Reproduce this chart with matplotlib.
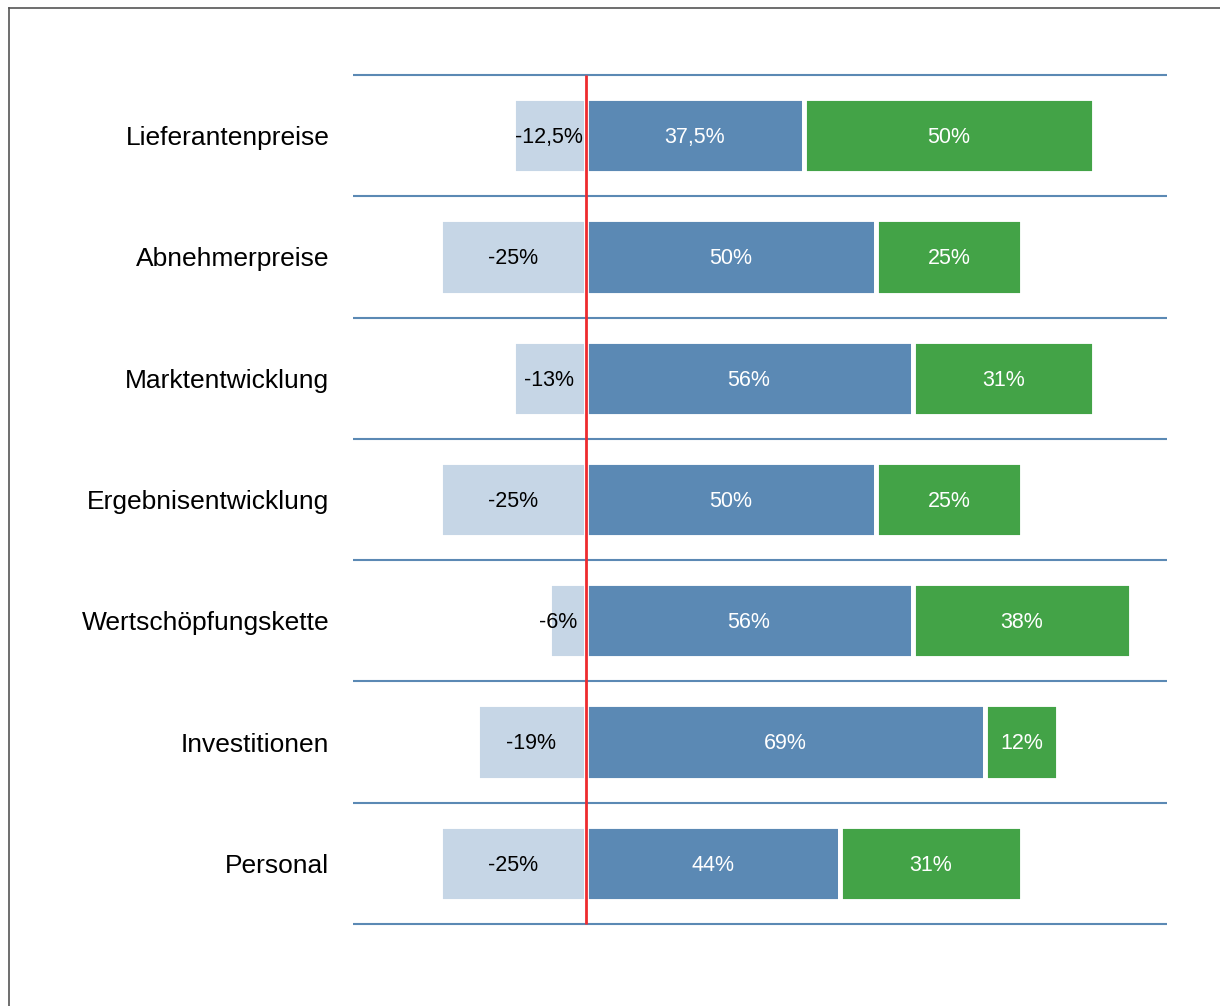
import matplotlib
matplotlib.use("Agg")
import matplotlib.pyplot as plt
from matplotlib.lines import Line2D

categories = ["Lieferantenpreise", "Abnehmerpreise", "Marktentwicklung",
              "Ergebnisentwicklung", "Wertschöpfungskette", "Investitionen", "Personal"]
negative = [12.5, 25, 12.5, 25, 6.25, 18.75, 25]
neutral = [37.5, 50, 56.25, 50, 56.25, 68.75, 43.75]
positive = [50, 25, 31.25, 25, 37.5, 12.5, 31.25]
neg_labels = ["-12,5%", "-25%", "-13%", "-25%", "-6%", "-19%", "-25%"]
neu_labels = ["37,5%", "50%", "56%", "50%", "56%", "69%", "44%"]
pos_labels = ["50%", "25%", "31%", "25%", "38%", "12%", "31%"]

c_neg = "#c6d6e6"
c_neu = "#5b89b4"
c_pos = "#43a347"
c_line = "#5b89b4"
c_red = "#ee2b2f"

plt.rcParams['font.family'] = ['Liberation Sans', 'DejaVu Sans']

fig = plt.figure(figsize=(12.2, 10.06), dpi=100)
ax = fig.add_axes([353/1220, 1-924/1006, 814/1220, 849/1006])

y = list(range(len(categories)))
h = 0.62
lw = 3.5
ax.barh(y, [-v for v in negative], height=h, color=c_neg, edgecolor="white", linewidth=lw, zorder=2)
ax.barh(y, neutral, height=h, color=c_neu, edgecolor="white", linewidth=lw, zorder=2)
ax.barh(y, positive, left=neutral, height=h, color=c_pos, edgecolor="white", linewidth=lw, zorder=2)

dy = 0.015
for i in y:
    if negative[i] < 8:
        ax.text(-1.4, i + dy, neg_labels[i], ha="right", va="center", fontsize=15.5, color="black", zorder=4)
    else:
        ax.text(-negative[i]/2, i + dy, neg_labels[i], ha="center", va="center", fontsize=15.5, color="black", zorder=4)
    ax.text(neutral[i]/2, i + dy, neu_labels[i], ha="center", va="center", fontsize=15.5, color="white", zorder=4)
    ax.text(neutral[i] + positive[i]/2, i + dy, pos_labels[i], ha="center", va="center", fontsize=15.5, color="white", zorder=4)

for k in range(len(categories) + 1):
    ax.axhline(k - 0.5, color=c_line, linewidth=1.5, zorder=1, clip_on=False, solid_capstyle="butt")

ax.axvline(0, color=c_red, linewidth=2.0, zorder=3, clip_on=False, solid_capstyle="butt")

ax.set_xlim(-40, 100)
ax.set_ylim(len(categories) - 0.5, -0.5)
ax.set_yticks(y)
ax.set_yticklabels(categories, fontsize=19)
ax.tick_params(axis="y", length=0, pad=17)
ax.set_xticks([])
for s in ax.spines.values():
    s.set_visible(False)

# figure border (top and left)
fig.add_artist(Line2D([9/1220, 9/1220], [0, 1-8/1006], transform=fig.transFigure, color="#555555", linewidth=1.2))
fig.add_artist(Line2D([9/1220, 1], [1-8/1006, 1-8/1006], transform=fig.transFigure, color="#555555", linewidth=1.2))

fig.savefig("out.png", dpi=100)
